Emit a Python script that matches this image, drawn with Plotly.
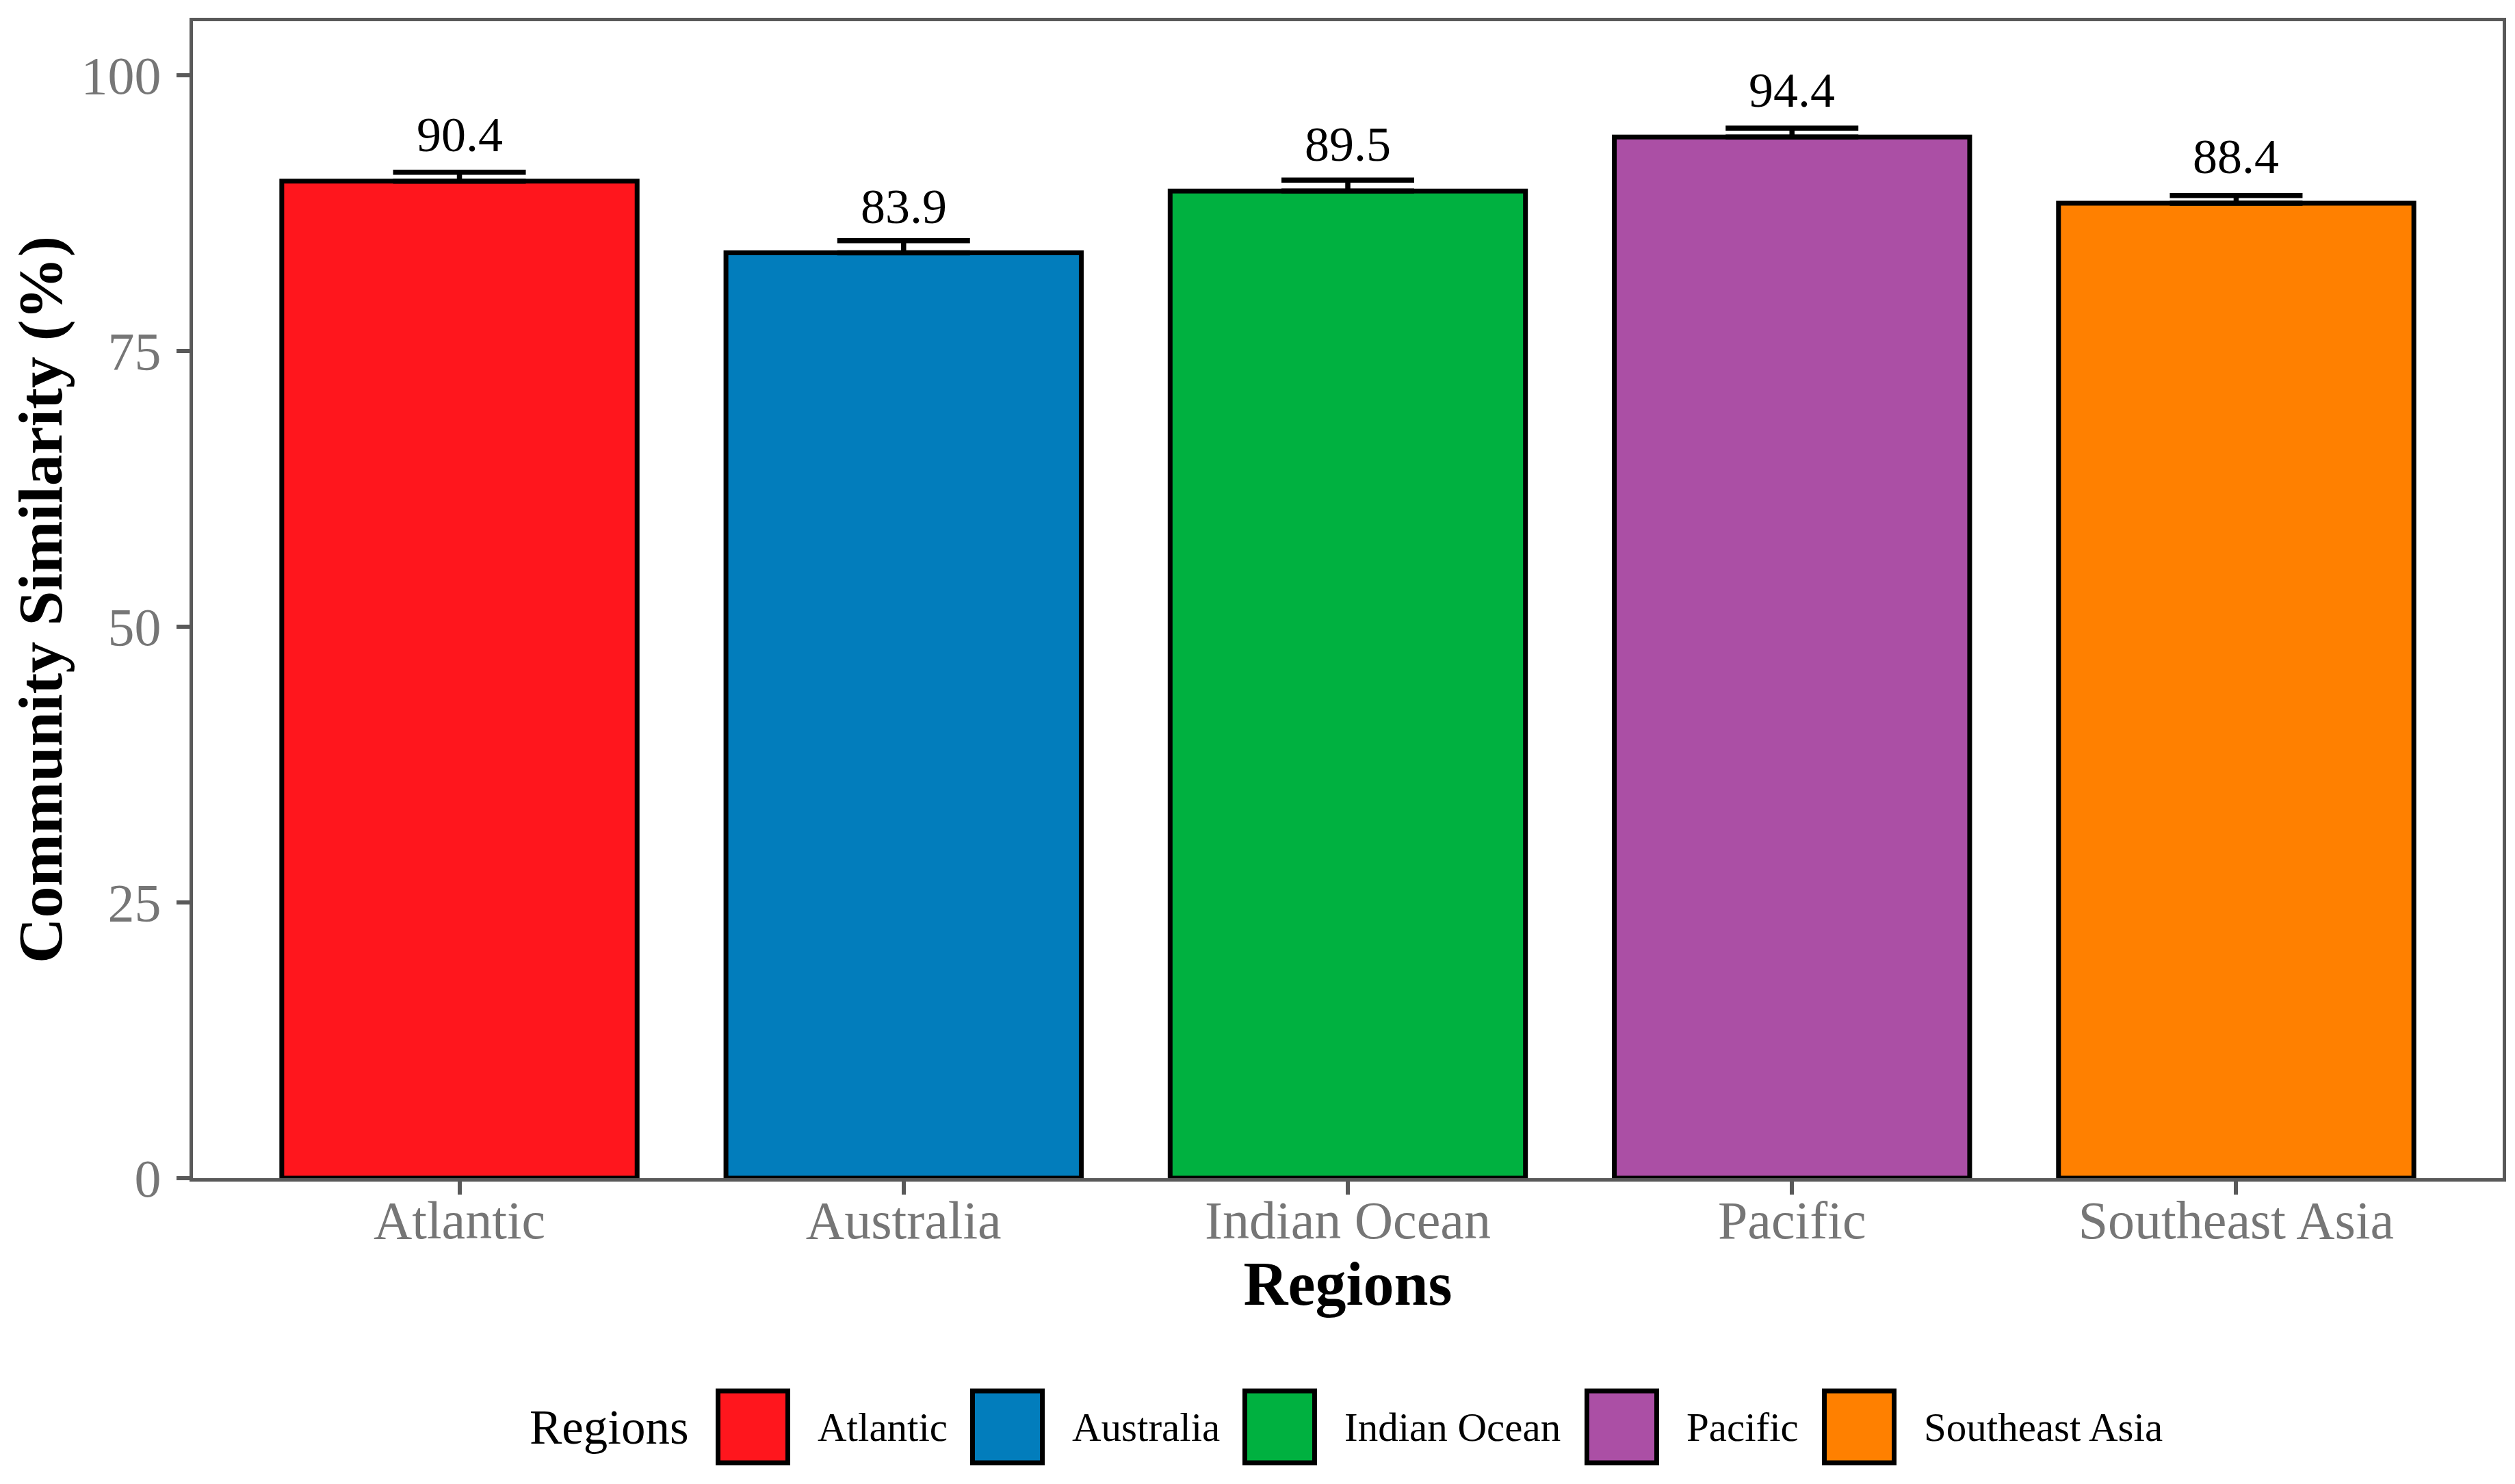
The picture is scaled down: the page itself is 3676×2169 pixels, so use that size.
import plotly.graph_objects as go

# data
regions = ["Atlantic", "Australia", "Indian Ocean", "Pacific", "Southeast Asia"]
similarity = [90.4, 83.9, 89.5, 94.4, 88.4]
similarity_se = [0.8, 1.1, 1.0, 0.8, 0.7]
bar_colors = ["#FF161D", "#027DBC", "#00B140", "#AB4FA5", "#FF8000"]
y_ticks = [0, 25, 50, 75, 100]

FONT = "Liberation Serif, Times New Roman, serif"
PAGE_OFF = 8  # default body margin of the html page
W, H = 3676 - PAGE_OFF, 2169 - PAGE_OFF
M_L, M_R, M_T, M_B = 282 - PAGE_OFF, 18, 31 - PAGE_OFF, 447
PLOT_W = W - M_L - M_R
PLOT_H = H - M_T - M_B


def px_x(x):
    # screen pixel column -> paper coordinate
    return (x - PAGE_OFF - M_L) / PLOT_W


def px_y(y):
    return (H - M_B - (y - PAGE_OFF)) / PLOT_H


fig = go.Figure()

fig.add_trace(go.Bar(
    x=regions, y=similarity, width=0.8,
    marker=dict(color=bar_colors, line=dict(color="black", width=7)),
    error_y=dict(type="data", array=similarity_se, arrayminus=[0] * len(similarity_se),
                 symmetric=False, color="black", thickness=7.5, width=97),
    showlegend=False,
))

# value labels above the error bars
for reg, val in zip(regions, similarity):
    fig.add_annotation(x=reg, y=val, text=f"{val:.1f}", showarrow=False,
                       yanchor="bottom", yshift=26,
                       font=dict(family=FONT, size=72, color="black"))

# hand-made legend with large swatches (plotly's own bar swatches are tiny)
legend_swatch_left = [1046, 1418, 1816, 2316, 2663]
sw_w, sw_top, sw_bot = 109, 2033, 2138
fig.add_annotation(xref="paper", yref="paper", x=px_x(772), y=px_y(2086),
                   xanchor="left", yanchor="middle", text="Regions", showarrow=False,
                   font=dict(family=FONT, size=71, color="black"))
for reg, col, left in zip(regions, bar_colors, legend_swatch_left):
    fig.add_shape(type="rect", xref="paper", yref="paper",
                  x0=px_x(left + 3.5), x1=px_x(left + sw_w - 3.5),
                  y0=px_y(sw_bot), y1=px_y(sw_top),
                  fillcolor=col, line=dict(color="black", width=7))
    fig.add_annotation(xref="paper", yref="paper", x=px_x(left + 147), y=px_y(2086),
                       xanchor="left", yanchor="middle", text=reg, showarrow=False,
                       font=dict(family=FONT, size=59, color="black"))

axis_line = "#595959"
fig.update_layout(
    width=W, height=H,
    margin=dict(l=M_L, r=M_R, t=M_T, b=M_B, autoexpand=False),
    paper_bgcolor="white", plot_bgcolor="white",
    font=dict(family=FONT, color="black"),
    bargap=0.2,
    xaxis=dict(
        type="category", range=[-0.6, 4.6],
        showline=True, linecolor=axis_line, linewidth=5, mirror=True,
        ticks="outside", ticklen=19, tickwidth=6, tickcolor=axis_line,
        tickfont=dict(family=FONT, size=78, color="#767676"),
        ticklabelstandoff=-30,
        showgrid=False, zeroline=False,
        title=dict(text="<b>Regions</b>", standoff=2,
                   font=dict(family=FONT, size=90, color="black")),
    ),
    yaxis=dict(
        range=[0, 104.9], tickvals=y_ticks,
        showline=True, linecolor=axis_line, linewidth=5, mirror=True,
        ticks="outside", ticklen=19, tickwidth=6, tickcolor=axis_line,
        tickfont=dict(family=FONT, size=78, color="#767676"),
        ticklabelstandoff=7,
        showgrid=False, zeroline=False,
        title=dict(text="<b>Community Similarity (%)</b>", standoff=33,
                   font=dict(family=FONT, size=92, color="black")),
    ),
)

fig.write_html("out.html")
